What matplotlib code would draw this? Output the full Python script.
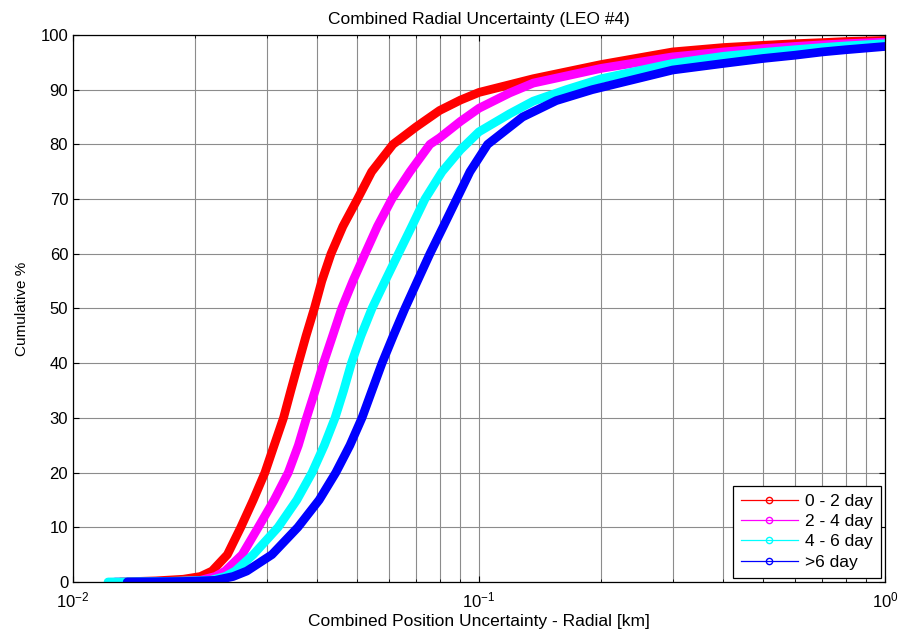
import matplotlib
matplotlib.use('Agg')
import matplotlib.pyplot as plt
from matplotlib.lines import Line2D
from matplotlib.ticker import LogLocator, NullFormatter

plt.rcParams['font.family'] = ['Liberation Sans', 'DejaVu Sans']
plt.rcParams['mathtext.fontset'] = 'custom'
plt.rcParams['mathtext.rm'] = 'Liberation Sans'

labels = ['0 - 2 day', '2 - 4 day', '4 - 6 day', '>6 day']
colors = ['#ff0000', '#ff00ff', '#00ffff', '#0000ff']

# radial uncertainty [km] vs cumulative percent
x_0_2 = [0.0131, 0.0160, 0.0187, 0.0206, 0.0220, 0.0240, 0.0259, 0.0278, 0.0297,
         0.0313, 0.0330, 0.0344, 0.0359, 0.0375, 0.0393, 0.0410, 0.0432, 0.0462,
         0.0502, 0.0544, 0.0614, 0.07, 0.08, 0.09, 0.10, 0.136, 0.2, 0.3, 0.4,
         0.5, 0.6, 0.7, 0.8, 1.0]
y_0_2 = [0, 0.2, 0.5, 1, 2, 5, 10, 15, 20, 25, 30, 35, 40, 45, 50, 55, 60, 65,
         70, 75, 80, 83.2, 86.2, 88.1, 89.5, 92.0, 94.6, 96.9, 97.7, 98.1, 98.4,
         98.6, 98.8, 99.0]

x_2_4 = [0.0127, 0.0180, 0.0206, 0.0224, 0.0237, 0.0261, 0.0286, 0.0313, 0.0339,
         0.0359, 0.0376, 0.0395, 0.0414, 0.0436, 0.0459, 0.0489, 0.0524, 0.0562,
         0.0610, 0.0676, 0.0757, 0.08, 0.09, 0.10, 0.119, 0.136, 0.2, 0.3, 0.4,
         0.5, 0.6, 0.7, 0.8, 1.0]
y_2_4 = [0, 0.1, 0.3, 1, 2, 5, 10, 15, 20, 25, 30, 35, 40, 45, 50, 55, 60, 65,
         70, 75, 80, 81.2, 84.2, 86.6, 89.4, 91.2, 93.9, 96.0, 96.9, 97.5, 97.9,
         98.2, 98.4, 98.7]

x_4_6 = [0.0122, 0.0170, 0.0218, 0.0237, 0.0251, 0.0278, 0.0320, 0.0356, 0.0388,
         0.0416, 0.0442, 0.0464, 0.0485, 0.0512, 0.0545, 0.0587, 0.0633, 0.0683,
         0.0736, 0.0811, 0.09, 0.10, 0.119, 0.136, 0.164, 0.2, 0.3, 0.4, 0.5, 0.6,
         0.7, 0.8, 1.0]
y_4_6 = [0, 0.1, 0.3, 1, 2, 5, 10, 15, 20, 25, 30, 35, 40, 45, 50, 55, 60, 65,
         70, 75, 79.0, 82.3, 85.6, 87.9, 90.0, 92.0, 94.8, 96.1, 96.8, 97.3, 97.7,
         98.0, 98.4]

x_6 = [0.0136, 0.0190, 0.0224, 0.0248, 0.0268, 0.0309, 0.0358, 0.0404, 0.0444,
       0.0481, 0.0515, 0.0545, 0.0577, 0.0615, 0.0657, 0.0705, 0.0757, 0.0817,
       0.0881, 0.0950, 0.105, 0.128, 0.155, 0.19, 0.3, 0.4, 0.5, 0.6, 0.7,
       0.8, 1.0]
y_6 = [0, 0.1, 0.3, 1, 2, 5, 10, 15, 20, 25, 30, 35, 40, 45, 50, 55, 60, 65, 70,
       75, 80, 85, 88, 90, 93.6, 94.8, 95.7, 96.3, 96.9, 97.3, 97.9]

series = [(x_0_2, y_0_2), (x_2_4, y_2_4), (x_4_6, y_4_6), (x_6, y_6)]

fig = plt.figure(figsize=(9.07, 6.35), dpi=100)
ax = fig.add_axes([0.0805, 0.0835, 0.8952, 0.8614])

for (xs, ys), c in zip(series, colors):
    ax.plot(xs, ys, '-', color=c, lw=6.3, solid_capstyle='round', solid_joinstyle='round')
    ax.plot(xs[:3], ys[:3], 'o', color=c, mfc='none', ms=5, mew=1)

ax.set_xscale('log')
ax.set_xlim(1e-2, 1)
ax.set_ylim(0, 100)
ax.set_yticks(range(0, 101, 10))
ax.xaxis.set_minor_locator(LogLocator(base=10, subs=range(2, 10)))
ax.xaxis.set_minor_formatter(NullFormatter())

ax.grid(True, which='major', color='#8c8c8c', lw=0.8)
ax.grid(True, which='minor', axis='x', color='#8c8c8c', lw=0.8)
ax.set_axisbelow(True)

ax.tick_params(which='both', direction='in', top=True, right=True, labelsize=12, color='black')
ax.tick_params(which='major', length=4)
ax.tick_params(which='minor', length=2.5)
ax.tick_params(axis='x', pad=6)
for s in ax.spines.values():
    s.set_linewidth(0.9)

ax.set_title('Combined Radial Uncertainty (LEO #4)', fontsize=12.5, pad=8)
ax.set_xlabel('Combined Position Uncertainty - Radial [km]', fontsize=12.5, labelpad=3)
ax.set_ylabel('Cumulative %', fontsize=11, labelpad=8)

handles = [Line2D([0], [0], color=c, lw=0.9, marker='o', ms=4.5, mfc='none', mew=1)
           for c in colors]
leg = ax.legend(handles, labels, loc='lower right', fontsize=12.5, fancybox=False,
                framealpha=1, edgecolor='black', borderaxespad=0.25, handlelength=3.3,
                handletextpad=0.4, borderpad=0.45, labelspacing=0.3)
leg.get_frame().set_linewidth(0.9)

fig.savefig('out.png', dpi=100)
